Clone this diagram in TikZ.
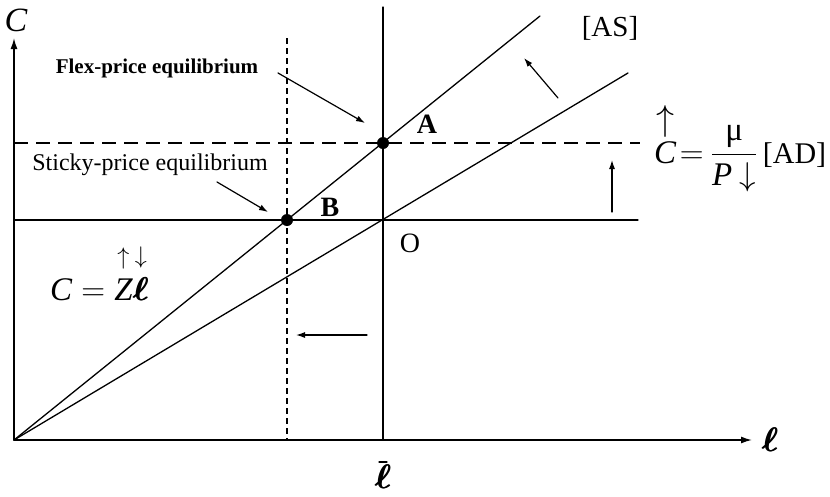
\documentclass[tikz,border=0pt]{standalone}
\usepackage{fix-cm}
\usepackage{amsmath,amssymb,bm}
\usepackage{fontspec}
\setmainfont{Liberation Serif}
\newcommand{\ellb}{\mbox{\rlap{$\bm{\ell}$}\kern0.7pt$\bm{\ell}$}}
\usetikzlibrary{arrows.meta}

\tikzset{
  curve/.style={line width=1.3pt},
  adline/.style={line width=2.2pt, line cap=butt, dash pattern=on 14pt off 8pt},
  flexline/.style={line width=1.3pt, line cap=butt, dash pattern=on 6pt off 4pt},
  pointer/.style={line width=1.2pt, -{Latex[length=9pt,width=6pt]}},
  ptlbl/.style={font=\fontsize{28}{30}\selectfont\bfseries, inner sep=0pt},
}

\begin{document}
\begin{tikzpicture}[x=1pt, y=-1pt, line join=round, line cap=round]
\useasboundingbox (0,0) rectangle (830,496);
\coordinate (o) at (14,440);
\coordinate (xend) at (752,440);
\coordinate (yend) at (14,38);
\coordinate (A) at (383,143);
\coordinate (B) at (287,220);
\coordinate (O) at (383,220);
\coordinate (lbartop) at (383,7);
\coordinate (lbarbot) at (383,440);
\coordinate (flextop) at (287,38);
\coordinate (flexbot) at (287,440);
\coordinate (adleft) at (14,143);
\coordinate (adright) at (640,143);
\coordinate (csleft) at (14,220);
\coordinate (csright) at (638,220);
\coordinate (asup) at (540,16);
\coordinate (aslow) at (628,73);
\draw[line width=1.5pt, -{Latex[length=11pt,width=7pt]}] (o) -- (xend);
\draw[line width=1.5pt, -{Latex[length=11pt,width=7pt]}] (o) -- (yend);
\draw[curve] (lbartop) -- (lbarbot);
\draw[flexline] (flextop) -- (flexbot);
\draw[adline] (adleft) -- (adright);
\draw[curve] (csleft) -- (csright);
\draw[curve] (o) -- (asup);
\draw[curve] (o) -- (aslow);
\fill (A) circle (6pt);
\fill (B) circle (6pt);
\node[font=\fontsize{34}{38}\selectfont\itshape] (clbl) at (16,20) {C};
\node[font=\fontsize{34}{38}\selectfont] (ellbl) at (770,440) {\ellb};
\node[font=\fontsize{34}{38}\selectfont, inner sep=0pt] (ellbar) at (383,477) {\ellb};
\draw[line width=1.2pt] ([xshift=-4pt, yshift=3pt]ellbar.north) -- ([xshift=4pt, yshift=3pt]ellbar.north);
\node[ptlbl] (albl) at (427,124) {A};
\node[ptlbl] (blbl) at (330,207) {B};
\node[ptlbl, font=\fontsize{28}{30}\selectfont] (olbl) at (410,243) {O};
\node[font=\fontsize{21}{24}\selectfont\bfseries] (flexlbl) at (157,68) {Flex-price equilibrium};
\node[font=\fontsize{24}{26}\selectfont] (stickylbl) at (150,165) {Sticky-price equilibrium};
\node[font=\fontsize{29}{32}\selectfont] (aslbl) at (610,28) {[AS]};
\node[anchor=base west, inner sep=0pt, font=\fontsize{33}{38}\selectfont] (adlbl) at (654,163)
  {$\overset{\raisebox{3pt}{\fontsize{36}{40}\selectfont$\uparrow$}}{\textit{C}}\mkern2mu{=}\mkern4mu\dfrac{\text{μ}}{\textit{P}\mkern-1mu\downarrow}$\,{\fontsize{30}{34}\selectfont[AD]}};
\node[anchor=base west, inner sep=0pt, font=\fontsize{33}{36}\selectfont] (zlbl) at (50,300)
  {$\textit{C} = \overset{\raisebox{7pt}{\fontsize{24}{26}\selectfont$\uparrow$}}{\textit{Z}}\overset{\raisebox{7pt}{\fontsize{24}{26}\selectfont$\downarrow$}}{\ellb}$};
\coordinate (flexfrom) at (278,73);
\coordinate (flexto) at (365,123);
\coordinate (stickyfrom) at (217,182);
\coordinate (stickyto) at (268,212);
\coordinate (asfrom) at (558,98);
\coordinate (asto) at (524,58);
\coordinate (adfrom) at (612,212);
\coordinate (adto) at (612,160);
\coordinate (lfrom) at (367,335);
\coordinate (lto) at (296,335);
\draw[pointer] (flexfrom) -- (flexto);
\draw[pointer] (stickyfrom) -- (stickyto);
\draw[pointer] (asfrom) -- (asto);
\draw[pointer] (adfrom) -- (adto);
\draw[pointer] (lfrom) -- (lto);
\end{tikzpicture}
\end{document}
